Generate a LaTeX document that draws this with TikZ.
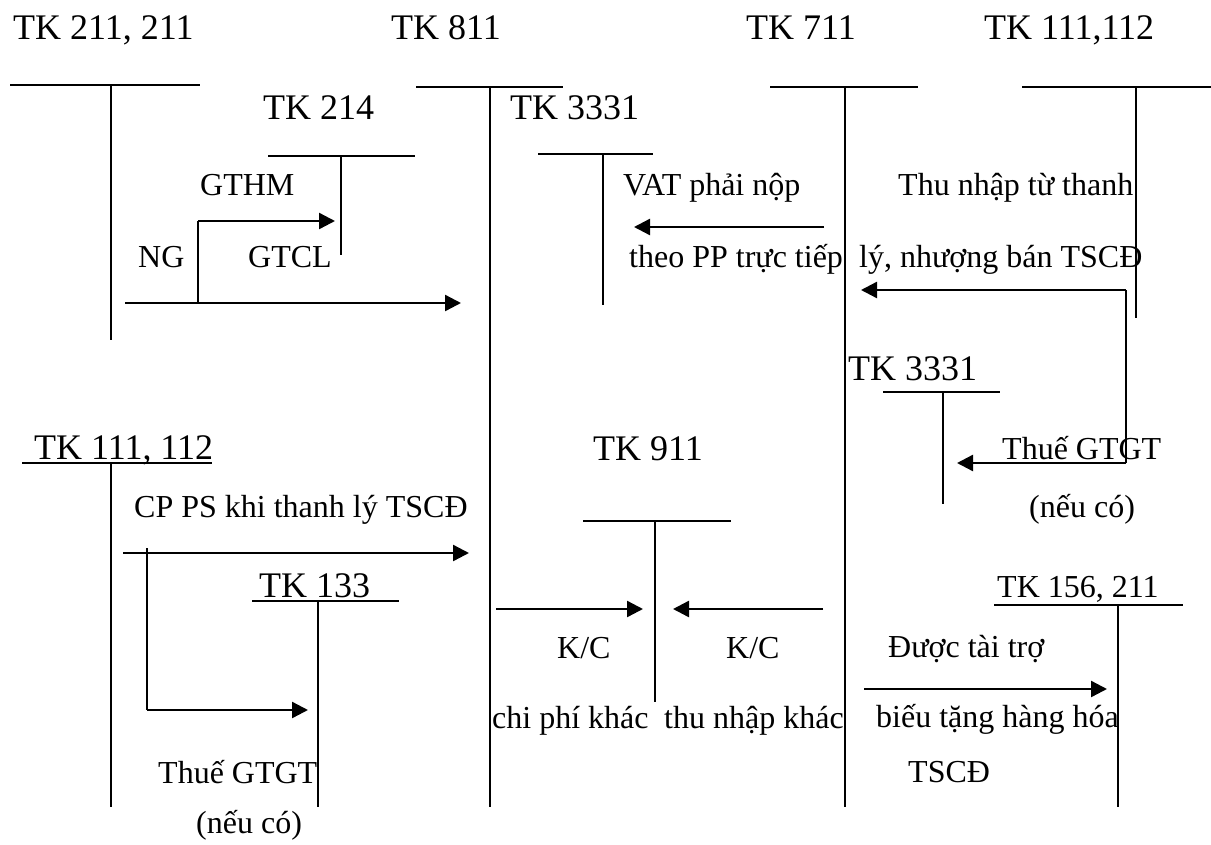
\documentclass[tikz,border=0pt]{standalone}
\usepackage{fontspec}
\setmainfont{Liberation Serif}
\usetikzlibrary{arrows.meta}
\begin{document}
\begin{tikzpicture}[x=1bp,y=-1bp,
  title/.style={anchor=base west,inner sep=0pt,font=\fontsize{36bp}{40bp}\selectfont},
  lbl/.style={anchor=base west,inner sep=0pt,font=\fontsize{32bp}{36bp}\selectfont},
  tline/.style={line width=1.6bp},
  branch/.style={line width=1.6bp},
  flow/.style={line width=2.4bp,-{Triangle[length=16bp,width=16bp]}}]
\useasboundingbox (0,0) rectangle (1211,845);

% ---- titles
\node[title] (t211)  at (13,39)  {TK 211, 211};
\node[title] (t811)  at (391,39) {TK 811};
\node[title] (t711)  at (746,39) {TK 711};
\node[title] (t111a) at (984,39) {TK 111,112};
\node[title] (t214)  at (263,119) {TK 214};
\node[title] (t3331a) at (510,119) {TK 3331};
\node[title] (t3331b) at (848,380) {TK 3331};
\node[title] (t111b) at (34,459) {TK 111, 112};
\node[title] (t911)  at (593,460) {TK 911};
\node[title] (t133)  at (259,597) {TK 133};
\node[lbl]   (t156)  at (997,597) {TK 156, 211};

% ---- T accounts
\draw[tline] (10,85) -- (200,85)  (111,85) -- (111,340);
\draw[tline] (416,87) -- (563,87) (490,87) -- (490,807);
\draw[tline] (268,156) -- (415,156) (341,156) -- (341,255);
\draw[tline] (538,154) -- (653,154) (603,154) -- (603,305);
\draw[tline] (770,87) -- (918,87) (845,87) -- (845,807);
\draw[tline] (1022,87) -- (1211,87) (1136,87) -- (1136,318);
\draw[tline] (883,392) -- (1000,392) (943,392) -- (943,504);
\draw[tline] (22,463) -- (212,463) (111,463) -- (111,807);
\draw[tline] (583,521) -- (731,521) (655,521) -- (655,702);
\draw[tline] (252,601) -- (399,601) (318,601) -- (318,807);
\draw[tline] (994,605) -- (1183,605) (1118,605) -- (1118,807);

% ---- arrow end points
\coordinate (a1s) at (125,303); \coordinate (a1e) at (461,303);
\coordinate (b1s) at (198,303); \coordinate (b1k) at (198,221); \coordinate (b1e) at (335,221);
\coordinate (a2s) at (824,227); \coordinate (a2e) at (634,227);
\coordinate (a3s) at (1126,290); \coordinate (a3e) at (861,290);
\coordinate (b3k) at (1126,463); \coordinate (b3e) at (957,463);
\coordinate (a4s) at (123,553); \coordinate (a4e) at (469,553);
\coordinate (b4s) at (147,548); \coordinate (b4k) at (147,710); \coordinate (b4e) at (308,710);
\coordinate (a5s) at (496,609); \coordinate (a5e) at (643,609);
\coordinate (a6s) at (823,609); \coordinate (a6e) at (673,609);
\coordinate (a7s) at (864,689); \coordinate (a7e) at (1107,689);

% ---- arrows
\draw[flow] (a1s) -- (a1e);
\draw[branch] (b1s) -- (b1k);
\draw[flow] (b1k) -- (b1e);
\draw[flow] (a2s) -- (a2e);
\draw[flow] (a3s) -- (a3e);
\draw[branch] (a3s) -- (b3k);
\draw[flow] (b3k) -- (b3e);
\draw[flow] (a4s) -- (a4e);
\draw[branch] (b4s) -- (b4k);
\draw[flow] (b4k) -- (b4e);
\draw[flow] (a5s) -- (a5e);
\draw[flow] (a6s) -- (a6e);
\draw[flow] (a7s) -- (a7e);

% ---- labels
\node[lbl] (l1)  at (200,195) {GTHM};
\node[lbl] (l2)  at (138,267) {NG};
\node[lbl] (l3)  at (248,267) {GTCL};
\node[lbl] (l4)  at (623,195) {VAT phải nộp};
\node[lbl] (l5)  at (629,267) {theo PP trực tiếp};
\node[lbl] (l6)  at (898,195) {Thu nhập từ thanh};
\node[lbl] (l7)  at (859,267) {lý, nhượng bán TSCĐ};
\node[lbl] (l8)  at (1002,459) {Thuế GTGT};
\node[lbl] (l9)  at (1029,517) {(nếu có)};
\node[lbl] (l10) at (134,517) {CP PS khi thanh lý TSCĐ};
\node[lbl] (l11) at (158,783) {Thuế GTGT};
\node[lbl] (l12) at (196,833) {(nếu có)};
\node[lbl] (l13) at (557,658) {K/C};
\node[lbl] (l14) at (726,658) {K/C};
\node[lbl] (l15) at (492,728) {chi phí khác};
\node[lbl] (l16) at (664,728) {thu nhập khác};
\node[lbl] (l17) at (888,657) {Được tài trợ};
\node[lbl] (l18) at (876,727) {biếu tặng hàng hóa};
\node[lbl] (l19) at (908,782) {TSCĐ};
\end{tikzpicture}
\end{document}
